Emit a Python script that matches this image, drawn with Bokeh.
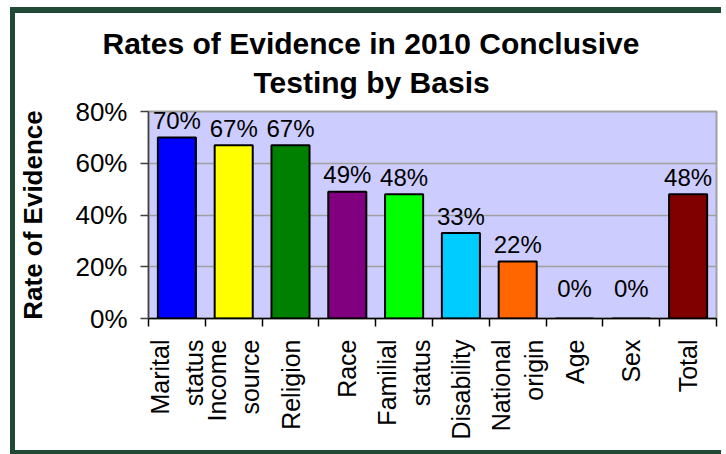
from bokeh.plotting import figure
from bokeh.models import Label, FixedTicker, LinearAxis, Title
from bokeh.embed import file_html
from bokeh.resources import INLINE
import math

categories = ["Marital\nstatus", "Income\nsource", "Religion", "Race", "Familial\nstatus",
              "Disability", "National\norigin", "Age", "Sex", "Total"]
rates = [0.70, 0.67, 0.67, 0.49, 0.48, 0.33, 0.22, 0.0, 0.0, 0.48]
rate_labels = ["70%", "67%", "67%", "49%", "48%", "33%", "22%", "0%", "0%", "48%"]
bar_colors = ["#0000FF", "#FFFF00", "#008000", "#800080", "#00FF00",
              "#00CCFF", "#FF6600", "#999999", "#999999", "#800000"]
y_ticks = [0.0, 0.2, 0.4, 0.6, 0.8]
y_tick_labels = ["0%", "20%", "40%", "60%", "80%"]
title_lines = ["Rates of Evidence in 2010 Conclusive", "Testing by Basis"]
y_title = "Rate of Evidence"

FONT = "Liberation Sans"
GREEN = "#214A36"
W, H = 711, 447
ML, MR, MT, MB = 133, 10, 98, 142
n = len(categories)

p = figure(width=W, height=H, output_backend="svg", toolbar_location=None,
           x_range=(0, n), y_range=(0, 0.8), x_axis_location=None,
           min_border_left=ML, min_border_right=MR, min_border_top=MT, min_border_bottom=MB,
           background_fill_color="#CCCCFF", border_fill_color="white")
p.styles = {"border-top": f"6px solid {GREEN}", "border-left": f"5px solid {GREEN}",
            "border-bottom": f"4px solid {GREEN}", "margin-left": "10px", "margin-top": "7px"}
p.outline_line_color = "#A0A0A0"
p.outline_line_width = 2

xs = [i + 0.5 for i in range(n)]
p.vbar(x=xs, top=rates, width=0.67, fill_color=bar_colors, line_color="black", line_width=2)

# x axis with ticks between categories
ax = LinearAxis(ticker=FixedTicker(ticks=list(range(n + 1))))
ax.major_label_overrides = {i: "" for i in range(n + 1)}
ax.major_label_text_font_size = "0px"
ax.major_label_standoff = 0
ax.major_tick_in = 0
ax.major_tick_out = 8
ax.minor_tick_line_color = None
ax.axis_line_color = "black"
ax.axis_line_width = 1.5
ax.major_tick_line_color = "black"
ax.major_tick_line_width = 1.5
p.add_layout(ax, "below")

# category label axis
cax = LinearAxis(ticker=FixedTicker(ticks=xs))
cax.major_label_overrides = {x: c for x, c in zip(xs, categories)}
cax.major_label_orientation = math.pi / 2
cax.major_label_text_font = FONT
cax.major_label_text_font_size = "25px"
cax.major_label_text_line_height = 1.2
cax.major_label_text_color = "black"
cax.major_label_standoff = 13
cax.major_tick_in = 0
cax.major_tick_out = 0
cax.minor_tick_line_color = None
cax.axis_line_color = None
p.add_layout(cax, "below")

p.yaxis.ticker = FixedTicker(ticks=y_ticks)
p.yaxis.major_label_overrides = {t: l for t, l in zip(y_ticks, y_tick_labels)}
p.yaxis.major_label_text_font = FONT
p.yaxis.major_label_text_font_size = "26px"
p.yaxis.major_label_text_color = "black"
p.yaxis.major_label_standoff = 13
p.yaxis.major_tick_in = 0
p.yaxis.major_tick_out = 8
p.yaxis.minor_tick_line_color = None
p.yaxis.axis_line_color = "#404040"
p.yaxis.axis_line_width = 1.5
p.yaxis.major_tick_line_color = "#404040"
p.yaxis.major_tick_line_width = 1.5
p.yaxis.axis_label = y_title
p.yaxis.axis_label_text_font = FONT
p.yaxis.axis_label_text_font_size = "26px"
p.yaxis.axis_label_text_font_style = "bold"
p.yaxis.axis_label_text_color = "black"
p.yaxis.axis_label_standoff = 24

p.xgrid.grid_line_color = None
p.ygrid.grid_line_color = "#A0A0A0"
p.ygrid.grid_line_width = 1.5

frame_h = H - MT - MB
ypp = 0.8 / frame_h

# value labels (above the bar; a minimum height for empty bars)
for x, v, lab in zip(xs, rates, rate_labels):
    p.add_layout(Label(x=x, y=max(v, 0.05) + 17 * ypp, text=lab, text_font=FONT,
                       text_font_size="24px", text_align="center", text_baseline="alphabetic",
                       text_color="black"))

# chart title: spacer, then the two lines (added nearest-first)
p.add_layout(Title(text=" ", text_font_size="1px", standoff=10), "above")
for line, off, so in [(title_lines[1], 105, 0), (title_lines[0], -46, 7)]:
    p.add_layout(Title(text=line, align="left", offset=off, standoff=so,
                       text_font=FONT, text_font_size="30px", text_font_style="bold",
                       text_color="black"), "above")

open("out.html", "w").write(file_html(p, INLINE))
